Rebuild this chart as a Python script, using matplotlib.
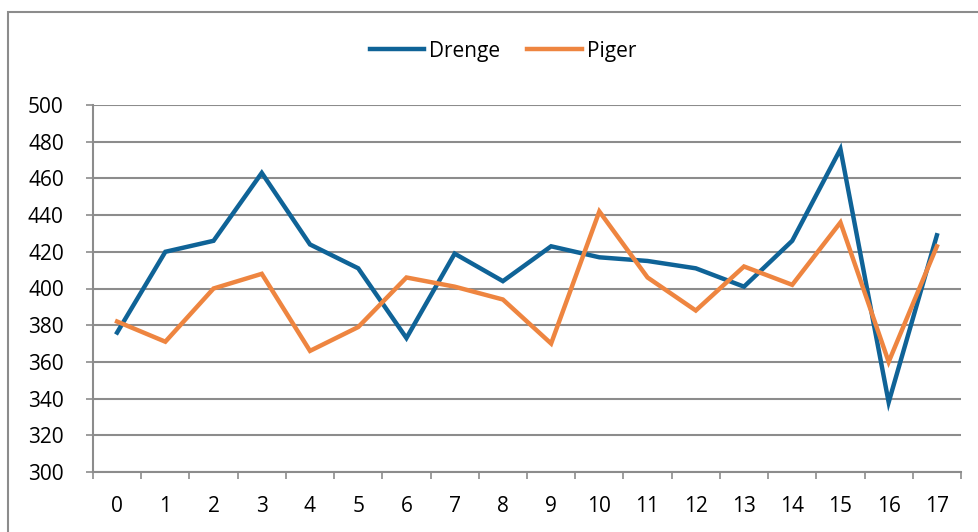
import numpy as np
import matplotlib.pyplot as plt
from matplotlib.patches import Rectangle

# data
categories = [str(i) for i in range(18)]
drenge = [376, 420, 426, 463, 424, 411, 373, 419, 404, 423, 417, 415, 411, 401, 426, 476, 338, 429]
piger = [382, 371, 400, 408, 366, 379, 406, 401, 394, 370, 442, 406, 388, 412, 402, 436, 360, 423]
y_ticks = list(range(300, 501, 20))

plt.rcParams['font.family'] = ['Open Sans', 'DejaVu Sans']

fig = plt.figure(figsize=(9.79, 5.32), dpi=100)
ax = fig.add_axes([93 / 979, 1 - 472 / 532, 868 / 979, 367 / 532])

x = np.arange(len(categories))
ax.plot(x, drenge, color='#0F6397', lw=3.2, label='Drenge', solid_joinstyle='miter')
ax.plot(x, piger, color='#EE8540', lw=3.2, label='Piger', solid_joinstyle='miter')

ax.set_xlim(-0.5, len(categories) - 0.5)
ax.set_ylim(300, 500)
ax.set_yticks(y_ticks)
ax.set_yticklabels([str(v) for v in y_ticks], fontsize=15)
ax.grid(axis='y', color='#8C8C8C', lw=1.5)
ax.set_axisbelow(True)

# category labels centered, tick marks between categories
ax.set_xticks(x)
ax.set_xticklabels(categories, fontsize=15)
ax.tick_params(axis='x', which='major', length=0, pad=17)
ax.set_xticks(np.arange(-0.5, len(categories)), minor=True)
ax.tick_params(axis='x', which='minor', length=5, width=1.2, color='#8C8C8C', direction='out')
ax.tick_params(axis='y', length=5, width=1.2, color='#8C8C8C', pad=16)

for side in ['top', 'right']:
    ax.spines[side].set_visible(False)
for side in ['left', 'bottom']:
    ax.spines[side].set_color('#8C8C8C')
    ax.spines[side].set_linewidth(1.5)

leg = fig.legend(loc='center', bbox_to_anchor=(503 / 979, 1 - 51 / 532), ncol=2, frameon=False,
                 fontsize=15, handlelength=2.6, handletextpad=0.25, columnspacing=1.3)

# outer chart border
fig.patches.append(Rectangle((8 / 979, -0.05), 1.2, 1 - 12 / 532 + 0.05, transform=fig.transFigure,
                             fill=False, edgecolor='#8C8C8C', lw=1.5))

fig.savefig('out.png', dpi=100)
